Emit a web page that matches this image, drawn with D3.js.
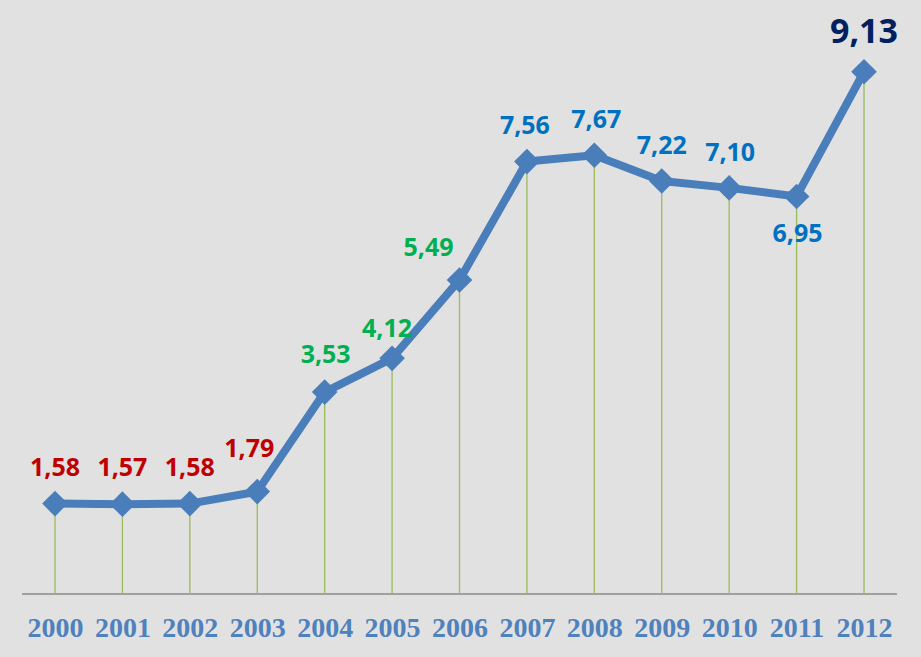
<!DOCTYPE html>
<html>
<head>
<meta charset="utf-8">
<script src="https://cdn.jsdelivr.net/npm/d3@7"></script>
<style>
  body { margin: 0; background: #e1e1e1; }
</style>
</head>
<body>
<div class="canva"></div>
<script>
const years = ["2000", "2001", "2002", "2003", "2004", "2005", "2006", "2007", "2008", "2009", "2010", "2011", "2012"];
const values = [1.58, 1.57, 1.58, 1.79, 3.53, 4.12, 5.49, 7.56, 7.67, 7.22, 7.10, 6.95, 9.13];
const labelColors = ["#c00000", "#c00000", "#c00000", "#c00000", "#00b050", "#00b050", "#00b050",
  "#0070c0", "#0070c0", "#0070c0", "#0070c0", "#0070c0", "#002060"];

// label offsets relative to the point (dx, dy)
const labelOffsets = [[0, -28], [0, -28], [0, -28], [-8, -35], [1, -29], [-5, -21], [-31, -24],
  [-2, -28], [2, -27], [0, -27], [1, -27], [1, 46], [0, -29]];

const width = 921, height = 657;
const svg = d3.select(".canva").append("svg").attr("width", width).attr("height", height);

svg.append("rect").attr("width", width).attr("height", height).attr("fill", "#e1e1e1");

const x = d3.scalePoint().domain(years).range([55, 864]);
const y = d3.scaleLinear().domain([0, 10]).range([594, 22]);

// baseline
svg.append("line")
  .attr("x1", 22).attr("x2", 897)
  .attr("y1", y(0)).attr("y2", y(0))
  .attr("stroke", "#8a8a8a").attr("stroke-width", 1.5);

// drop lines
svg.selectAll(".drop")
  .data(values)
  .join("line")
  .attr("x1", (d, i) => x(years[i])).attr("x2", (d, i) => x(years[i]))
  .attr("y1", d => y(d)).attr("y2", y(0))
  .attr("stroke", "#9bbb59").attr("stroke-width", 1.3);

// year labels
const xAxis = d3.axisBottom(x).tickSize(0).tickPadding(0);
const gx = svg.append("g").attr("transform", `translate(0,${y(0)})`).call(xAxis);
gx.select(".domain").remove();
gx.selectAll("text")
  .attr("dy", 0).attr("y", 43)
  .attr("fill", "#4f81bd")
  .attr("font-family", "Liberation Serif")
  .attr("font-weight", "bold")
  .attr("font-size", 28);

// line
const line = d3.line().x((d, i) => x(years[i])).y(d => y(d));
svg.append("path")
  .datum(values)
  .attr("d", line)
  .attr("fill", "none")
  .attr("stroke", "#4a7ebb")
  .attr("stroke-width", 8)
  .attr("stroke-linejoin", "round");

// diamond markers
svg.selectAll(".marker")
  .data(values)
  .join("path")
  .attr("d", d3.symbol().type(d3.symbolDiamond2).size(420))
  .attr("transform", (d, i) => `translate(${x(years[i])},${y(d)})`)
  .attr("fill", "#4a7ebb");

// value labels
svg.selectAll(".val")
  .data(values)
  .join("text")
  .text(d => d.toFixed(2).replace(".", ","))
  .attr("x", (d, i) => x(years[i]) + labelOffsets[i][0])
  .attr("y", (d, i) => y(d) + labelOffsets[i][1])
  .attr("text-anchor", "middle")
  .attr("fill", (d, i) => labelColors[i])
  .attr("font-family", "Noto Sans")
  .attr("font-weight", "bold")
  .attr("font-size", (d, i) => i === values.length - 1 ? 34 : 25);
</script>
</body>
</html>
